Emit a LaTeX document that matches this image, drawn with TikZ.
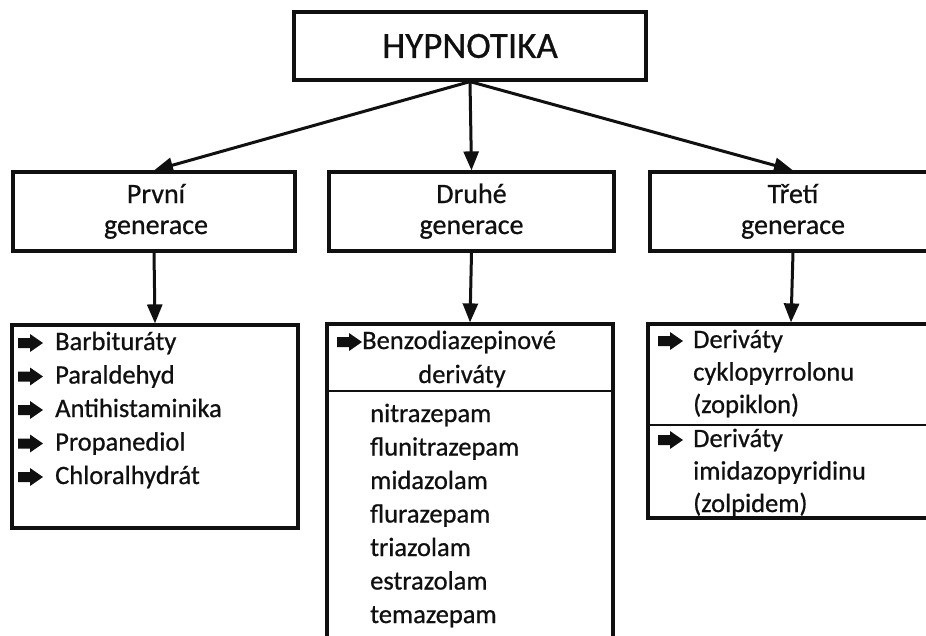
\documentclass[tikz,border=0pt]{standalone}
\usepackage{fontspec}
\setmainfont{Carlito}[FakeBold=0.7]
\usetikzlibrary{arrows.meta}
\definecolor{ink}{HTML}{101010}
\tikzset{
  x=1pt, y=-1pt,
  box/.style={draw=ink, line width=3.2pt, rectangle, inner sep=0pt, text=ink},
  conn/.style={draw=ink, line width=3pt, -{Triangle[length=19pt,width=15pt]}},
  divline/.style={draw=ink, line width=2.8pt},
  lbl/.style={anchor=base west, inner sep=0pt, font=\fontsize{26.5}{26.5}\selectfont, text=ink},
  genlbl/.style={anchor=base, inner sep=0pt, font=\fontsize{28}{28}\selectfont, text=ink},
  bularrow/.pic={\fill[ink] (0,-5) -- (12,-5) -- (12,-9) -- (25,0) -- (12,9) -- (12,5) -- (0,5) -- cycle;}
}
\begin{document}
\begin{tikzpicture}
\useasboundingbox (0,0) rectangle (926,635);
\clip (0,0) rectangle (926,635);
\fill[white] (0,0) rectangle (926,635);

% top
\node[box, minimum width=352pt, minimum height=68pt, font=\fontsize{37}{37}\selectfont] (top) at (470,46) {HYPNOTIKA};

% generation boxes
\node[box, minimum width=282pt, minimum height=79pt] (gen1) at (154,211.5) {};
\node[box, minimum width=285pt, minimum height=79pt] (gen2) at (471.5,211.5) {};
\node[box, minimum width=286pt, minimum height=79pt] (gen3) at (793,211.5) {};

\node[genlbl] (g1a) at (156,203) {První};
\node[genlbl] (g1b) at (156,234) {generace};
\node[genlbl] (g2a) at (471.5,203) {Druhé};
\node[genlbl] (g2b) at (471.5,234) {generace};
\node[genlbl] (g3a) at (793,203) {Třetí};
\node[genlbl] (g3b) at (793,234) {generace};

\draw[conn] (top.south) -- (gen1.north);
\draw[conn] (top.south) -- (gen2.north);
\draw[conn] (top.south) -- (gen3.north);

% lower boxes
\node[box, minimum width=286pt, minimum height=203pt] (l1) at (155,426.5) {};
\node[box, minimum width=286pt, minimum height=336pt] (l2) at (470,492) {};
\node[box, minimum width=286pt, minimum height=194pt] (l3) at (791,421) {};

\draw[conn] (gen1.south) -- (l1.north);
\draw[conn] (gen2.south) -- (l2.north);
\draw[conn] (gen3.south) -- (l3.north);

\coordinate (d2) at (0,391);
\coordinate (d3) at (0,425);
\draw[divline] (l2.west |- d2) -- (l2.east |- d2);
\draw[divline] (l3.west |- d3) -- (l3.east |- d3);

% first generation list
\foreach \t [count=\i from 0] in {Barbituráty, Paraldehyd, Antihistaminika, Propanediol, Chloralhydrát}{
  \pic at (18,{350+33.5*\i-7}) {bularrow};
  \node[lbl] (a\i) at (55,{350+33.5*\i}) {\t};
}

% second generation
\pic at (337,{349-7}) {bularrow};
\node[lbl] (b0) at (362,349) {Benzodiazepinové};
\node[lbl, anchor=base] (b1) at (462,383) {deriváty};
\foreach \t [count=\i from 0] in {nitrazepam, flunitrazepam, midazolam, flurazepam, triazolam, estrazolam, temazepam}{
  \node[lbl] (c\i) at (370,{422+33.5*\i}) {\t};
}

% third generation
\pic at (658,{348-7}) {bularrow};
\node[lbl] (e0) at (693,348) {Deriváty};
\node[lbl] (e1) at (693,380.5) {cyklopyrrolonu};
\node[lbl] (e2) at (693,413) {(zopiklon)};
\pic at (658,{447-7}) {bularrow};
\node[lbl] (f0) at (693,447) {Deriváty};
\node[lbl] (f1) at (693,479.5) {imidazopyridinu};
\node[lbl] (f2) at (693,512) {(zolpidem)};
\end{tikzpicture}
\end{document}
